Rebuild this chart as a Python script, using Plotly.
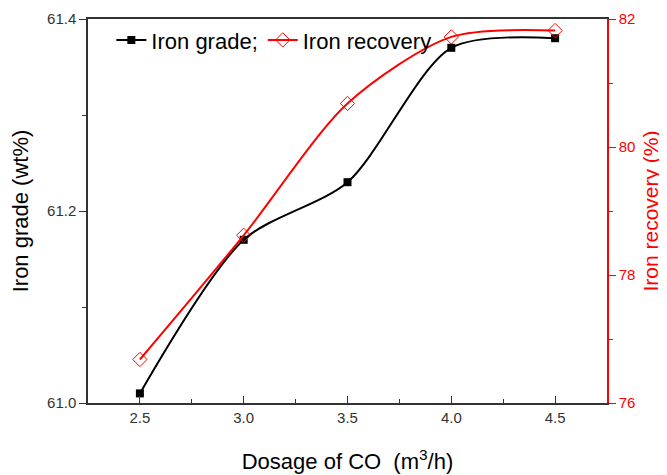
import plotly.graph_objects as go

dosage = [2.5, 3.0, 3.5, 4.0, 4.5]
iron_grade = [61.01, 61.17, 61.23, 61.37, 61.38]
iron_recovery = [76.68, 78.62, 80.68, 81.72, 81.82]

x_ticks = [2.5, 3.0, 3.5, 4.0, 4.5]
x_tick_labels = ["2.5", "3.0", "3.5", "4.0", "4.5"]
y1_ticks = [61.0, 61.2, 61.4]
y1_tick_labels = ["61.0", "61.2", "61.4"]
y2_ticks = [76, 78, 80, 82]
y2_tick_labels = ["76", "78", "80", "82"]

FONT = "Liberation Sans, Arial, sans-serif"
RED = "#ff0000"

fig = go.Figure()
fig.add_trace(go.Scatter(
    x=dosage, y=iron_grade, name="Iron grade;", mode="lines+markers",
    line=dict(color="black", width=2, shape="spline", smoothing=0.8),
    marker=dict(symbol="square", size=8, color="black"),
    yaxis="y"))
fig.add_trace(go.Scatter(
    x=dosage, y=iron_recovery, name="Iron recovery", mode="lines+markers",
    line=dict(color=RED, width=2, shape="spline", smoothing=0.8),
    marker=dict(symbol="diamond-open", size=11, color=RED, line=dict(width=1)),
    yaxis="y2"))

# the page body adds an 8px offset, so the figure is 8px smaller and margins compensate
fig.update_layout(
    width=659, height=467,
    margin=dict(l=80, r=60, t=11, b=72, autoexpand=False),
    paper_bgcolor="white", plot_bgcolor="white",
    font=dict(family=FONT, color="black"),
    showlegend=True,
    legend=dict(orientation="h", x=0.045, y=0.945, xanchor="left", yanchor="middle",
                font=dict(size=22, color="black"), bgcolor="rgba(0,0,0,0)",
                itemwidth=30, tracegroupgap=0),
    xaxis=dict(range=[2.25, 4.75], tickvals=x_ticks, ticktext=x_tick_labels,
               automargin=False,
               ticks="inside", ticklen=7, tickwidth=1.3, tickcolor="#333",
               minor=dict(dtick=0.25, tick0=2.5, ticks="inside", ticklen=4, tickcolor="#333"),
               showline=True, linecolor="#333", linewidth=1.5, mirror=True,
               showgrid=False, zeroline=False,
               tickfont=dict(size=15, color="#333"),
               title=dict(text="Dosage of CO  (m<sup>3</sup>/h)", font=dict(size=22, color="black"), standoff=29)),
    yaxis=dict(range=[61.0, 61.4], tickvals=y1_ticks, ticktext=y1_tick_labels,
               automargin=False,
               ticks="outside", ticklen=7, tickwidth=1.3, tickcolor="#333",
               minor=dict(dtick=0.1, tick0=61.0, ticks="outside", ticklen=4, tickcolor="#333"),
               showline=True, linecolor="#333", linewidth=1.5,
               showgrid=False, zeroline=False,
               tickfont=dict(size=15, color="#333"),
               title=dict(text="Iron grade (wt%)", font=dict(size=22, color="black"), standoff=12)),
    yaxis2=dict(range=[76, 82], tickvals=y2_ticks, ticktext=y2_tick_labels,
                overlaying="y", side="right", automargin=False,
                ticks="outside", ticklen=7, tickwidth=1.3, tickcolor=RED,
                minor=dict(dtick=1, tick0=76, ticks="outside", ticklen=4, tickcolor=RED),
                showline=True, linecolor=RED, linewidth=1.5,
                showgrid=False, zeroline=False,
                tickfont=dict(size=15, color=RED)),
    annotations=[dict(text="Iron recovery (%)", textangle=-90,
                      xref="paper", yref="paper", x=1.082, y=0.5,
                      xanchor="center", yanchor="middle", showarrow=False,
                      font=dict(size=21, color=RED, family=FONT))],
)

fig.write_html("out.html")
